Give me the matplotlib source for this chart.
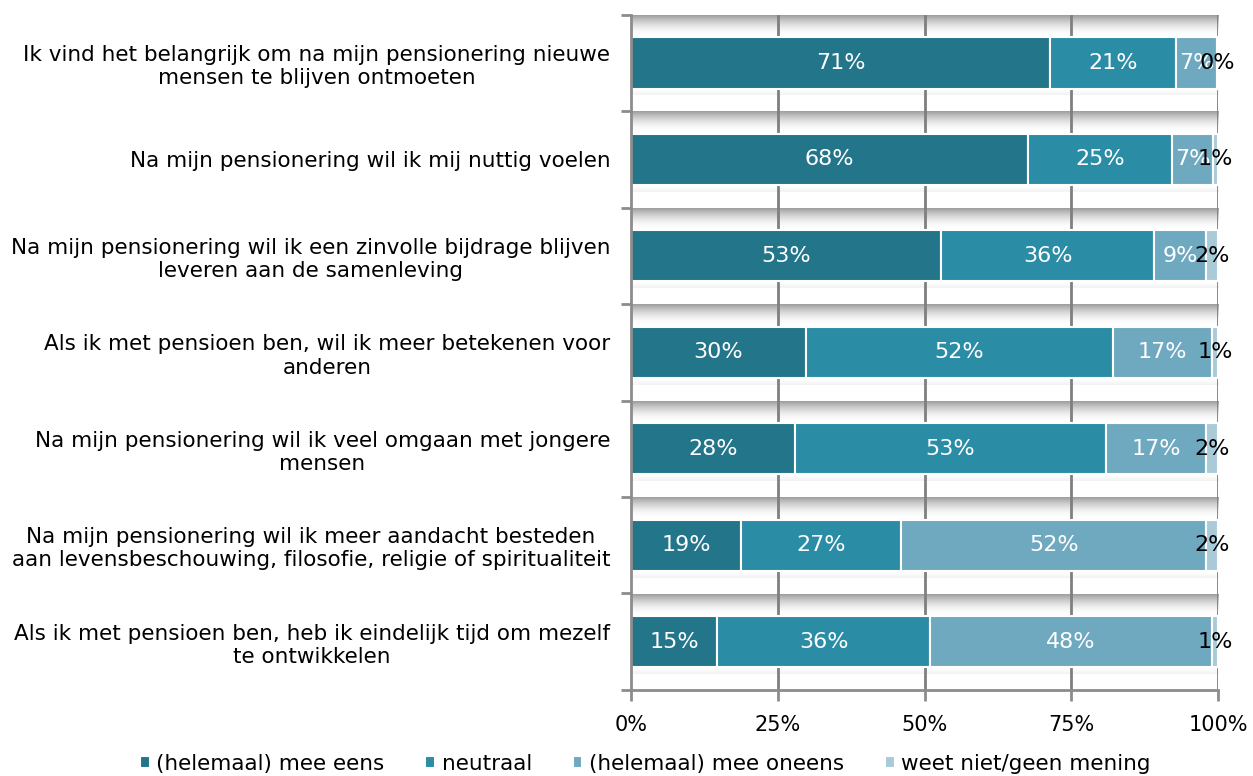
import numpy as np
import matplotlib
matplotlib.use('Agg')
import matplotlib.pyplot as plt

categories = [
    'Ik vind het belangrijk om na mijn pensionering nieuwe\nmensen te blijven ontmoeten',
    'Na mijn pensionering wil ik mij nuttig voelen',
    'Na mijn pensionering wil ik een zinvolle bijdrage blijven\nleveren aan de samenleving',
    'Als ik met pensioen ben, wil ik meer betekenen voor\nanderen',
    'Na mijn pensionering wil ik veel omgaan met jongere\nmensen',
    'Na mijn pensionering wil ik meer aandacht besteden\naan levensbeschouwing, filosofie, religie of spiritualiteit',
    'Als ik met pensioen ben, heb ik eindelijk tijd om mezelf\nte ontwikkelen',
]
series_names = ['(helemaal) mee eens', 'neutraal', '(helemaal) mee oneens', 'weet niet/geen mening']
eens = [71.4, 67.6, 52.8, 29.8, 27.9, 18.7, 14.7]
neutraal = [21.4, 24.6, 36.3, 52.3, 53.0, 27.3, 36.2]
oneens = [7.0, 6.9, 8.9, 16.9, 17.1, 52.0, 48.1]
weet_niet = [0.2, 0.9, 2.0, 1.0, 2.0, 2.0, 1.0]
xticks = [0, 25, 50, 75, 100]

colors = ['#23758A', '#2B8CA6', '#6FA9C0', '#A9CBD8']
label_colors = ['white', 'white', 'white', 'black']

fig = plt.figure(figsize=(12.53, 7.76), dpi=100)
ax = fig.add_axes([0.5036, 0.111, 0.4685, 0.870])

y = np.arange(len(categories))
bar_h = 0.53
data = [eens, neutraal, oneens, weet_niet]

# schaduw boven elke balk
grad = np.linspace(0, 1, 64) ** 1.8
shadow = np.zeros((64, 2, 4))
shadow[..., :3] = 0.45
shadow[..., 3] = grad[:, None] * 0.7
below = np.zeros((16, 2, 4))
below[..., :3] = 0.6
below[..., 3] = np.linspace(0.12, 0, 16)[:, None]
for yi in y:
    top = yi - bar_h / 2
    ax.imshow(shadow, extent=[0, 100, top - 0.015, top - 0.23], aspect='auto',
              interpolation='bilinear', zorder=0.5, origin='lower')
    ax.imshow(below, extent=[0, 100, yi + bar_h / 2 + 0.07, yi + bar_h / 2 + 0.01],
              aspect='auto', interpolation='bilinear', zorder=0.5, origin='lower')

left = np.zeros(len(categories))
for vals, name, c, lc in zip(data, series_names, colors, label_colors):
    vals = np.array(vals)
    ax.barh(y, vals, left=left, height=bar_h, color=c, edgecolor='white',
            linewidth=1.5, label=name, zorder=2)
    for yi, l, v in zip(y, left, vals):
        ax.text(l + v / 2, yi, '{:.0f}%'.format(v), color=lc, ha='center',
                va='center', fontsize=16, zorder=3)
    left += vals

ax.set_xlim(0, 100)
ax.set_ylim(len(categories) - 0.5, -0.5)
for xv in xticks[1:]:
    ax.axvline(xv, color='#7F7F7F', linewidth=2, zorder=1)

ax.set_xticks(xticks)
ax.set_xticklabels(['{}%'.format(v) for v in xticks], fontsize=15)
ax.set_yticks(y)
ax.set_yticklabels(categories, fontsize=15.5, multialignment='center')
ax.set_yticks(np.arange(len(categories) + 1) - 0.5, minor=True)
ax.tick_params(axis='y', which='major', length=0, pad=15)
ax.tick_params(axis='y', which='minor', length=7, width=2, color='#8C8C8C')
ax.tick_params(axis='x', length=8, width=2, color='#8C8C8C', pad=10)

for s in ['top', 'right']:
    ax.spines[s].set_visible(False)
for s in ['left', 'bottom']:
    ax.spines[s].set_color('#8C8C8C')
    ax.spines[s].set_linewidth(2)

handles, labels = ax.get_legend_handles_labels()
fig.legend(handles, labels, loc='lower center', ncol=4, fontsize=15.5,
           frameon=False, handlelength=0.45, handleheight=0.45,
           handletextpad=0.3, columnspacing=1.9, bbox_to_anchor=(0.515, -0.022))

fig.savefig('out.png', dpi=100)
